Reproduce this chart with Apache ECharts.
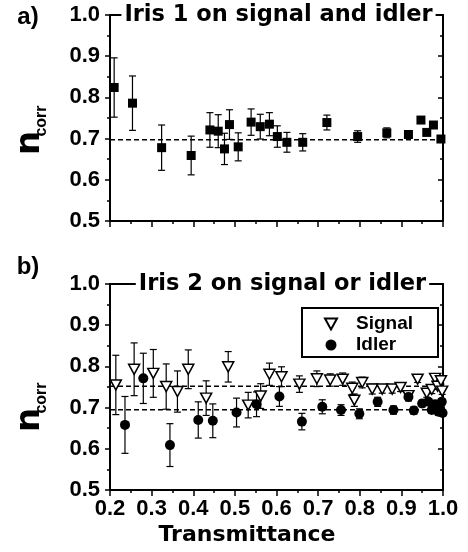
<!DOCTYPE html>
<html>
<head>
<meta charset="utf-8">
<script src="https://cdn.jsdelivr.net/npm/echarts@6/dist/echarts.min.js"></script>
<style>
html,body{margin:0;padding:0;background:#fff;}
#chart{width:468px;height:552px;}
</style>
</head>
<body>
<div id="chart"></div>
<script>
// ---- Tick labels ----
const xTickLabels = ['0.2','0.3','0.4','0.5','0.6','0.7','0.8','0.9','1.0'];
const yTickLabels = ['0.5','0.6','0.7','0.8','0.9','1.0'];

// ---- Panel a: Iris 1 on signal and idler ----
const aX   = [0.210,0.254,0.324,0.395,0.440,0.460,0.475,0.487,0.508,0.539,0.561,0.583,0.602,0.625,0.663,0.721,0.795,0.865,0.917,0.947,0.961,0.977,0.995];
const aY   = [0.824,0.786,0.678,0.659,0.721,0.718,0.675,0.734,0.680,0.740,0.729,0.735,0.705,0.691,0.691,0.739,0.705,0.714,0.710,0.745,0.715,0.733,0.699];
const aErr = [0.072,0.066,0.055,0.047,0.042,0.040,0.038,0.036,0.034,0.032,0.030,0.028,0.026,0.024,0.021,0.018,0.014,0.012,0.008,0.006,0.006,0.005,0.005];
const aAvg = 0.697;

// ---- Panel b: Iris 2 on signal or idler ----
const sX   = [0.214,0.258,0.304,0.335,0.362,0.388,0.431,0.484,0.532,0.562,0.583,0.612,0.655,0.697,0.729,0.759,0.782,0.787,0.806,0.830,0.854,0.878,0.898,0.917,0.939,0.961,0.973,0.981,0.987,0.995,0.998];
const sY   = [0.755,0.793,0.783,0.751,0.739,0.793,0.723,0.799,0.706,0.728,0.781,0.775,0.757,0.770,0.767,0.769,0.747,0.718,0.761,0.745,0.745,0.745,0.749,0.729,0.769,0.735,0.744,0.771,0.752,0.765,0.740];
const sErr = [0.072,0.064,0.058,0.055,0.050,0.047,0.042,0.037,0.031,0.030,0.027,0.024,0.020,0.019,0.015,0.015,0.015,0.015,0.013,0.012,0.010,0.010,0.010,0.010,0.008,0.010,0.010,0.008,0.008,0.008,0.008];
const sAvg = 0.752;

const iX   = [0.236,0.280,0.344,0.412,0.447,0.504,0.552,0.607,0.661,0.710,0.755,0.799,0.843,0.881,0.917,0.930,0.950,0.965,0.973,0.981,0.989,0.993,0.997,0.999];
const iY   = [0.658,0.771,0.609,0.670,0.668,0.688,0.708,0.727,0.666,0.702,0.694,0.685,0.714,0.694,0.726,0.693,0.710,0.714,0.694,0.708,0.690,0.698,0.714,0.687];
const iErr = [0.069,0.061,0.052,0.044,0.041,0.035,0.030,0.024,0.020,0.017,0.013,0.012,0.011,0.010,0.010,0.009,0.008,0.008,0.008,0.008,0.008,0.008,0.008,0.008];
const iAvg = 0.695;

const BLACK = '#000';
const TICK_FONT = '"Liberation Sans", Arial, sans-serif';
const WIDE_FONT = '"DejaVu Sans", Verdana, sans-serif';
const triPath = 'path://M0,0 L10,0 L5,9 Z';

function pts(xs, ys){ return xs.map((x,i)=>[x, ys[i]]); }
function errData(xs, ys, es){ return xs.map((x,i)=>[x, ys[i]-es[i], ys[i]+es[i]]); }

function errBar(params, api){
  const x = api.value(0);
  const p1 = api.coord([x, api.value(1)]);
  const p2 = api.coord([x, api.value(2)]);
  const w = 3.5;
  const st = {stroke: BLACK, lineWidth: 1.2};
  return {type:'group', children:[
    {type:'line', shape:{x1:p1[0], y1:p1[1], x2:p2[0], y2:p2[1]}, style:st},
    {type:'line', shape:{x1:p1[0]-w, y1:p1[1], x2:p1[0]+w, y2:p1[1]}, style:st},
    {type:'line', shape:{x1:p2[0]-w, y1:p2[1], x2:p2[0]+w, y2:p2[1]}, style:st}
  ]};
}

function xAxes(g, showLabels){
  return [
    {gridIndex:g, type:'value', min:0.2, max:1.0, interval:0.1, position:'bottom',
     axisLine:{show:true, onZero:false, lineStyle:{color:BLACK, width:2}},
     axisTick:{show:true, length:6, lineStyle:{color:BLACK, width:1.5}},
     minorTick:{show:true, splitNumber:2, length:3, lineStyle:{color:BLACK, width:1.5}},
     splitLine:{show:false}, minorSplitLine:{show:false},
     axisLabel:{show:showLabels, margin:8, color:BLACK, fontSize:22, fontWeight:'bold', fontFamily:TICK_FONT,
       formatter:(v)=>xTickLabels[Math.round((v-0.2)*10)]}},
    {gridIndex:g, type:'value', min:0.2, max:1.0, interval:0.1, position:'top',
     axisLine:{show:true, onZero:false, lineStyle:{color:BLACK, width:2}},
     axisTick:{show:false}, axisLabel:{show:false}, splitLine:{show:false}}
  ];
}
function yAxes(g){
  return [
    {gridIndex:g, type:'value', min:0.5, max:1.0, interval:0.1, position:'left',
     axisLine:{show:true, onZero:false, lineStyle:{color:BLACK, width:2}},
     axisTick:{show:true, length:5, lineStyle:{color:BLACK, width:1.5}},
     minorTick:{show:true, splitNumber:2, length:3, lineStyle:{color:BLACK, width:1.5}},
     splitLine:{show:false}, minorSplitLine:{show:false},
     axisLabel:{show:true, margin:10, color:BLACK, fontSize:22, fontWeight:'bold', fontFamily:TICK_FONT,
       formatter:(v)=>yTickLabels[Math.round((v-0.5)*10)]}},
    {gridIndex:g, type:'value', min:0.5, max:1.0, interval:0.1, position:'right',
     axisLine:{show:true, onZero:false, lineStyle:{color:BLACK, width:2}},
     axisTick:{show:true, inside:true, length:5, lineStyle:{color:BLACK, width:1.5}},
     minorTick:{show:true, splitNumber:2, length:3, lineStyle:{color:BLACK, width:1.5}},
     splitLine:{show:false}, minorSplitLine:{show:false}, axisLabel:{show:false}}
  ];
}

function avgLine(xi, yi, v){
  return {type:'line', xAxisIndex:xi, yAxisIndex:yi, data:[[0.2, v],[1.0, v]], symbol:'none', silent:true,
    lineStyle:{color:BLACK, width:1.5, type:[5,3]}, z:2};
}

function titleText(x, y, pre, bold, post){
  return {type:'text', x:x, y:y, z:100,
    style:{text:'{t|'+pre+'}{b|'+bold+'}{t|'+post+'}', align:'center', verticalAlign:'middle',
      backgroundColor:'#fff', padding:[2,3],
      rich:{
        t:{fontSize:22.5, fontWeight:'bold', fontFamily:WIDE_FONT, fill:BLACK},
        b:{fontSize:22.5, fontWeight:'bold', fontFamily:WIDE_FONT, fill:BLACK,
           textShadowColor:BLACK, textShadowBlur:0, textShadowOffsetX:0.8, textShadowOffsetY:0}
      }}};
}
function plainText(x, y, txt, size, family, rot){
  return {type:'text', x:x, y:y, rotation:rot||0, z:100,
    style:{text:txt, align:'center', verticalAlign:'middle', fill:BLACK,
      fontSize:size, fontWeight:'bold', fontFamily:family}};
}

const option = {
  backgroundColor:'#fff',
  animation:false,
  grid:[
    {left:110, top:15, width:333, height:206},
    {left:110, top:284, width:333, height:206}
  ],
  xAxis:[...xAxes(0,false), ...xAxes(1,true)],
  yAxis:[...yAxes(0), ...yAxes(1)],
  legend:{
    data:[{name:'Signal', icon:triPath},{name:'Idler', icon:'circle'}],
    orient:'vertical', left:302, top:308, itemGap:1,
    itemWidth:12, itemHeight:11,
    padding:[6,25,2,22], borderColor:BLACK, borderWidth:2, borderRadius:0, backgroundColor:'#fff',
    textStyle:{color:BLACK, fontSize:19, fontWeight:'bold', fontFamily:TICK_FONT, lineHeight:20, padding:[0,0,0,14]},
    selectedMode:false
  },
  series:[
    // Panel a
    {type:'custom', xAxisIndex:0, yAxisIndex:0, renderItem:errBar, data:errData(aX,aY,aErr), encode:{x:0, y:[1,2]}, z:1, silent:true},
    avgLine(0, 0, aAvg),
    {type:'scatter', name:'Iris 1', xAxisIndex:0, yAxisIndex:0, data:pts(aX,aY), symbol:'rect', symbolSize:9,
     itemStyle:{color:BLACK, opacity:1}, z:3},
    // Panel b
    {type:'custom', xAxisIndex:2, yAxisIndex:2, renderItem:errBar, data:errData(sX,sY,sErr), encode:{x:0, y:[1,2]}, z:1, silent:true},
    {type:'custom', xAxisIndex:2, yAxisIndex:2, renderItem:errBar, data:errData(iX,iY,iErr), encode:{x:0, y:[1,2]}, z:1, silent:true},
    avgLine(2, 2, sAvg),
    avgLine(2, 2, iAvg),
    {type:'scatter', name:'Signal', xAxisIndex:2, yAxisIndex:2, data:pts(sX,sY), symbol:triPath, symbolSize:[11,10],
     itemStyle:{color:'#fff', borderColor:BLACK, borderWidth:1.5, opacity:1}, z:3},
    {type:'scatter', name:'Idler', xAxisIndex:2, yAxisIndex:2, data:pts(iX,iY), symbol:'circle', symbolSize:10,
     itemStyle:{color:BLACK, opacity:1}, z:4}
  ],
  graphic:[
    titleText(278.5, 15, 'Iris 1 on signal ', 'and', ' idler'),
    titleText(282.5, 284, 'Iris 2 on signal ', 'or', ' idler'),
    plainText(28, 17, 'a)', 24, TICK_FONT),
    plainText(28, 267, 'b)', 24, TICK_FONT),
    plainText(30, 143, 'n', 34, WIDE_FONT, Math.PI/2),
    plainText(42, 121, 'corr', 16, TICK_FONT, Math.PI/2),
    plainText(30, 420, 'n', 34, WIDE_FONT, Math.PI/2),
    plainText(42, 398, 'corr', 16, TICK_FONT, Math.PI/2),
    plainText(247, 535, 'Transmittance', 22, WIDE_FONT)
  ]
};

const chart = echarts.init(document.getElementById('chart'), null, {renderer:'canvas'});
chart.setOption(option);
</script>
</body>
</html>
